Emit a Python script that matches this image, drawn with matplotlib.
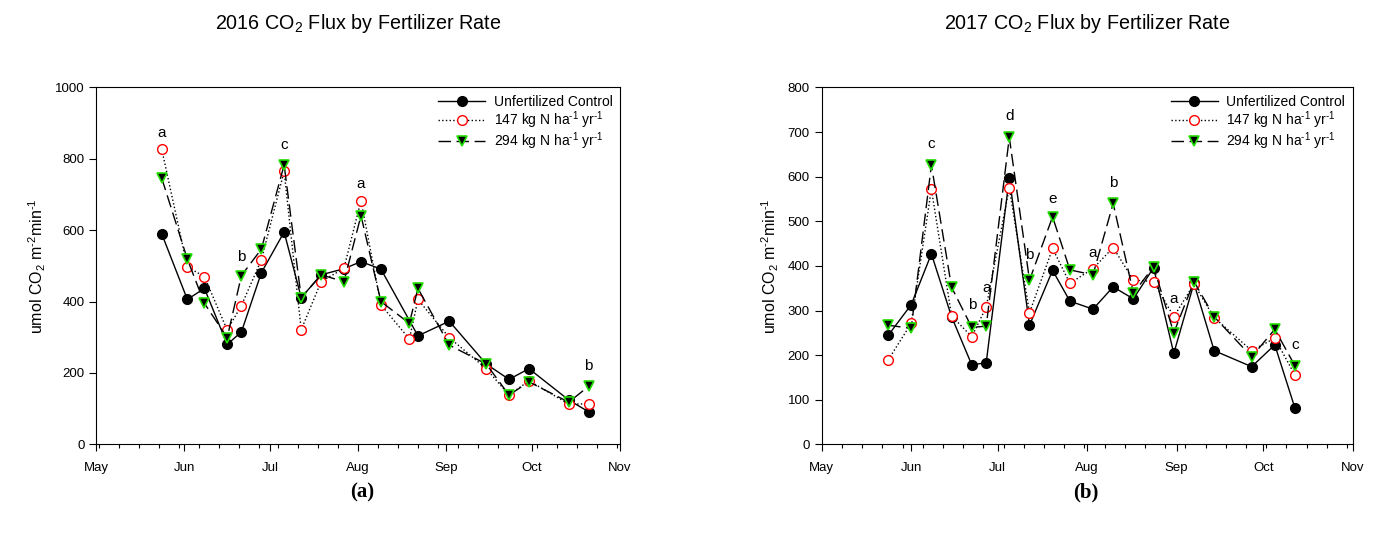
import matplotlib.pyplot as plt
import matplotlib.dates as mdates
import numpy as np

plt.rcParams['font.family'] = ['Liberation Sans', 'DejaVu Sans']
plt.rcParams['mathtext.fontset'] = 'custom'
plt.rcParams['mathtext.rm'] = 'Liberation Sans'
plt.rcParams['mathtext.it'] = 'Liberation Sans:italic'
plt.rcParams['mathtext.bf'] = 'Liberation Sans:bold'

# ---- 2016 data ----
dates16_ctrl = ['2016-05-24', '2016-06-02', '2016-06-08', '2016-06-16', '2016-06-21',
                '2016-06-28', '2016-07-06', '2016-07-12', '2016-07-19', '2016-07-27',
                '2016-08-02', '2016-08-09', '2016-08-22', '2016-09-02', '2016-09-15',
                '2016-09-23', '2016-09-30', '2016-10-14', '2016-10-21']
ctrl16 = [590, 406, 437, 280, 315, 481, 595, 411, 475, 492, 512, 491, 304, 345, 225,
          182, 212, 124, 91]

dates16 = ['2016-05-24', '2016-06-02', '2016-06-08', '2016-06-16', '2016-06-21',
           '2016-06-28', '2016-07-06', '2016-07-12', '2016-07-19', '2016-07-27',
           '2016-08-02', '2016-08-09', '2016-08-19', '2016-08-22', '2016-09-02',
           '2016-09-15', '2016-09-23', '2016-09-30', '2016-10-14', '2016-10-21']
n147_16 = [827, 497, 470, 320, 389, 517, 765, 321, 456, 493, 683, 391, 295, 406, 299,
           212, 138, 178, 113, 113]
n294_16 = [746, 519, 395, 299, 473, 547, 783, 411, 475, 456, 641, 400, 339, 437, 278,
           225, 138, 175, 118, 163]

letters16 = ['a', 'b', 'c', 'a', 'b']
letter_dates16 = ['2016-05-24', '2016-06-21', '2016-07-06', '2016-08-02', '2016-10-21']
letter_y16 = [853, 505, 820, 710, 200]

# ---- 2017 data ----
dates17 = ['2017-05-24', '2017-06-01', '2017-06-08', '2017-06-15', '2017-06-22',
           '2017-06-27', '2017-07-05', '2017-07-12', '2017-07-20', '2017-07-26',
           '2017-08-03', '2017-08-10', '2017-08-17', '2017-08-24', '2017-08-31',
           '2017-09-07', '2017-09-14', '2017-09-27', '2017-10-05', '2017-10-12']
ctrl17 = [244, 313, 427, 286, 178, 183, 598, 267, 390, 321, 303, 353, 326, 396, 204,
          361, 210, 174, 223, 81]
n147_17 = [189, 271, 572, 288, 241, 308, 575, 295, 439, 361, 394, 441, 368, 365, 286,
           359, 284, 210, 238, 155]
n294_17 = [267, 260, 626, 352, 262, 265, 688, 368, 510, 391, 380, 540, 339, 398, 250,
           365, 286, 196, 258, 176]

letters17 = ['c', 'b', 'a', 'd', 'b', 'e', 'a', 'b', 'a', 'c']
letter_dates17 = ['2017-06-08', '2017-06-22', '2017-06-27', '2017-07-05', '2017-07-12',
                  '2017-07-20', '2017-08-03', '2017-08-10', '2017-08-31', '2017-10-12']
letter_y17 = [658, 297, 334, 720, 409, 534, 413, 570, 310, 208]

labels = ['Unfertilized Control',
          r'147 kg N ha$^{\text{-}1}$ yr$^{\text{-}1}$',
          r'294 kg N ha$^{\text{-}1}$ yr$^{\text{-}1}$']


def d(lst):
    return np.array(lst, dtype='datetime64[D]')


fig = plt.figure(figsize=(13.73, 5.35), dpi=100)
ax1 = fig.add_axes([0.0701, 0.1695, 0.3815, 0.667])
ax2 = fig.add_axes([0.5985, 0.1695, 0.3867, 0.667])


def draw(ax, dc, c, dn, a, b, year, ymax, lets, ldates, ly, title):
    ax.plot(d(dc), c, '-', color='black', lw=1, marker='o', ms=7,
            mfc='black', mec='black', label=labels[0], zorder=3)
    ax.plot(d(dn), a, ':', color='black', lw=1, marker='o', ms=7,
            mfc='white', mec='red', mew=1, label=labels[1], zorder=4)
    ax.plot(d(dn), b, color='black', lw=1, dashes=(9, 4), marker='v', ms=7,
            mfc='black', mec='#22dd00', mew=1.2, label=labels[2], zorder=5)
    for t, x, y in zip(lets, d(ldates), ly):
        ax.text(x, y, t, ha='center', va='bottom', fontsize=11, zorder=6)
    ax.set_xlim(np.datetime64(f'{year}-05-01'), np.datetime64(f'{year}-11-01'))
    ax.set_ylim(0, ymax)
    ax.xaxis.set_major_locator(mdates.MonthLocator())
    ax.xaxis.set_major_formatter(mdates.DateFormatter('%b'))
    ax.xaxis.set_minor_locator(mdates.WeekdayLocator(byweekday=mdates.MO))
    ax.tick_params(axis='both', direction='out', labelsize=9.5, width=0.8)
    ax.tick_params(axis='x', which='major', length=5, pad=8)
    ax.tick_params(axis='x', which='minor', length=3, width=0.8)
    ax.tick_params(axis='y', length=5)
    for s in ax.spines.values():
        s.set_linewidth(0.8)
    ax.set_ylabel(r'umol CO$_2$ m$^{\text{-}2}$min$^{\text{-}1}$', fontsize=11.5,
                  labelpad=5)
    ax.set_title(title, fontsize=14.2, pad=42)
    ax.legend(loc='upper right', frameon=False, fontsize=10, handlelength=3.4,
              handletextpad=0.6, borderaxespad=0.15, labelspacing=0.0,
              bbox_to_anchor=(1.0, 1.0))


draw(ax1, dates16_ctrl, ctrl16, dates16, n147_16, n294_16, 2016, 1000,
     letters16, letter_dates16, letter_y16, r'2016 CO$_2$ Flux by Fertilizer Rate')
draw(ax2, dates17, ctrl17, dates17, n147_17, n294_17, 2017, 800,
     letters17, letter_dates17, letter_y17, r'2017 CO$_2$ Flux by Fertilizer Rate')

fig.text(0.264, 0.08, '(a)', ha='center', va='center', fontsize=15,
         family='Liberation Serif', weight='bold')
fig.text(0.791, 0.08, '(b)', ha='center', va='center', fontsize=15,
         family='Liberation Serif', weight='bold')

fig.savefig('out.png', dpi=100, facecolor='white')
